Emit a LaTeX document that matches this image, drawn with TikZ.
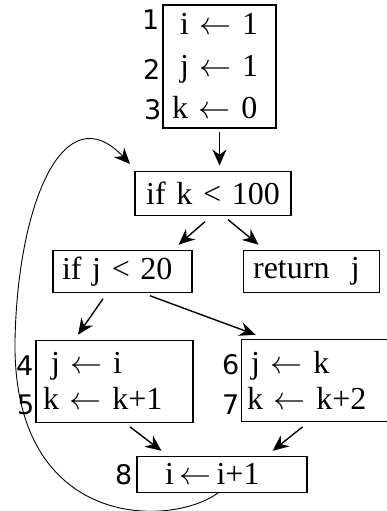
\documentclass[tikz,border=0pt]{standalone}
\usepackage{fix-cm}
\usepackage{fontspec}
\setmainfont{Liberation Serif}
\newfontfamily\lblfam{DejaVu Sans}
\usetikzlibrary{positioning, calc, arrows.meta}
\newcommand{\cfgfont}{\fontsize{32}{36}\selectfont}
\newcommand{\numfont}{\lblfam\fontsize{27}{30}\selectfont}
\tikzset{
  cfgBlk/.style={rectangle, draw=black, line width=1.1pt, align=left, font=\cfgfont, inner xsep=7pt, inner ysep=0pt},
  cfgNum/.style={font=\numfont, inner sep=0pt},
  cfgArr/.style={line width=1.4pt, -{Stealth[length=16pt,width=14pt]}},
  cfgLoop/.style={line width=0.9pt, -{Stealth[length=16pt,width=14pt]}},
}

\begin{document}
\begin{tikzpicture}[x=1pt, y=1pt, node distance=40pt]
\useasboundingbox (0,0) rectangle (387,-511);
\node (b1) [cfgBlk, inner xsep=9pt, text width=95pt, minimum height=123pt] at (219.5,-66.5)
  {\hspace*{8pt}i $\leftarrow$ 1\\[6pt]\hspace*{8pt}j $\leftarrow$ 1\\[6pt]k $\leftarrow$ 0};
\node (ifk) [cfgBlk, align=center, text width=142pt, minimum height=44pt, below=42pt of b1, xshift=-6.5pt] {if k < 100};
\node (ifj) [cfgBlk, inner xsep=9pt, text width=121pt, minimum height=42pt, below=34pt of ifk, xshift=-90.5pt] {if j < 20};
\node (ret) [cfgBlk, inner xsep=10pt, text width=116pt, minimum height=42pt, right=50pt of ifj] {return\ \ j};
\node (b4) [cfgBlk, text width=143pt, minimum height=82pt, below=47pt of ifj, xshift=-8pt] {\hspace*{8pt}j $\leftarrow$ i\\k $\leftarrow$ k+1};
\node (b6) [cfgBlk, inner xsep=6pt, text width=148pt, minimum height=82pt, right=47pt of b4, yshift=1pt] {\hspace*{4pt}j $\leftarrow$ k\\k $\leftarrow$ k+2};
\node (b8) [cfgBlk, inner xsep=28pt, text width=114pt, minimum height=36pt, below=33pt of b4, xshift=107.5pt] {i\,$\leftarrow$\,i+1};

% statement numbers
\node (n1) [cfgNum, left=3pt of b1.north west, yshift=-15pt] {1};
\node (n2) [cfgNum, left=2pt of b1.north west, yshift=-65pt] {2};
\node (n3) [cfgNum, left=1pt of b1.north west, yshift=-105pt] {3};
\node (n4) [cfgNum, left=2pt of b4.north west, yshift=-26pt] {4};
\node (n5) [cfgNum, left=1pt of b4.north west, yshift=-65pt] {5};
\node (n6) [cfgNum, left=1pt of b6.north west, yshift=-26pt] {6};
\node (n7) [cfgNum, left=1pt of b6.north west, yshift=-66pt] {7};
\node (n8) [cfgNum, left=4pt of b8] {8};

\draw [cfgArr] ($(b1.south)+(0,-3)$) -- ($(ifk.north)+(6.5,5)$);
\draw [cfgArr] ($(ifk.south)+(-8,-6)$) -- ($(ifj.north east)+(-14,5)$);
\draw [cfgArr] ($(ifk.south)+(15,-4)$) -- ($(ret.north west)+(16,5)$);
\draw [cfgArr] ($(ifj.south)+(-19.5,-6)$) -- ($(b4.north)+(-36.5,5)$);
\draw [cfgArr] ($(ifj.south)+(27.5,-3)$) -- ($(b6.north west)+(15,4)$);
\draw [cfgArr] ($(b4.south)+(15.5,-4)$) -- ($(b8.north west)+(25,5)$);
\draw [cfgArr] ($(b6.south west)+(62,-5)$) -- ($(b8.north east)+(-35,5)$);

% back edge
\coordinate (loopLeft) at (15,-340);
\coordinate (loopEnd) at (130,-164);
\draw [cfgLoop] ($(b8.south)+(-4,0)$) .. controls (170,-528) and (12,-530) .. (loopLeft)
  .. controls (18,-200) and (65,-95) .. (loopEnd);
\end{tikzpicture}
\end{document}
